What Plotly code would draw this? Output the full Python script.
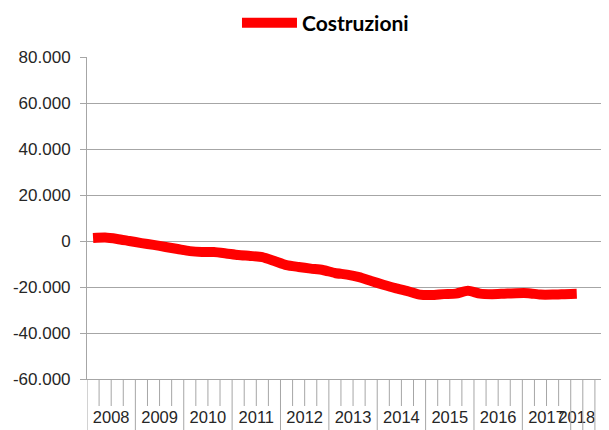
import plotly.graph_objects as go

# ---- data ----
series_name = "Costruzioni"
years = ["2008", "2009", "2010", "2011", "2012", "2013", "2014", "2015", "2016", "2017", "2018"]
quarters_per_year = [4, 4, 4, 4, 4, 4, 4, 4, 4, 4, 1]
extra_blank_slots = 2
values = [
    1300, 1500, 900, 0,
    -900, -1700, -2600, -3500,
    -4400, -4800, -4800, -5400,
    -6100, -6500, -7000, -8700,
    -10500, -11300, -12000, -12600,
    -13900, -14600, -15700, -17400,
    -19000, -20500, -21800, -23300,
    -23500, -23100, -22900, -21600,
    -22900, -23100, -22900, -22700,
    -22700, -23300, -23300, -23100,
    -22900,
]
y_tickvals = [-60000, -40000, -20000, 0, 20000, 40000, 60000, 80000]
y_ticktext = ["-60.000", "-40.000", "-20.000", "0", "20.000", "40.000", "60.000", "80.000"]

# ---- layout helpers ----
n_data = sum(quarters_per_year)
n_slots = n_data + extra_blank_slots
x = list(range(len(values)))

# page body has an 8px margin, so the figure is sized to the remaining area
W, H = 601, 422
mt, mb, ml, mr = 49, 51, 79, 2
plot_h = H - mt - mb

# group centres for year labels
centers = []
start = 0
for q in quarters_per_year:
    centers.append(start + (q - 1) / 2)
    start += q

# boundaries: long at year starts and after the last data slot
long_b = set()
start = 0
for q in quarters_per_year:
    long_b.add(start)
    start += q
for k in range(n_data, n_slots + 1):
    long_b.add(k)

grid_col = "#a6a6a6"
shapes = []
for k in range(n_slots + 1):
    y1 = -(mb + 2) / plot_h if k in long_b else -27 / plot_h
    shapes.append(dict(type="line", xref="x", yref="paper",
                       x0=k - 0.5, x1=k - 0.5, y0=0, y1=y1,
                       line=dict(color=grid_col, width=1)))

fig = go.Figure()
fig.add_trace(go.Scatter(
    x=x, y=values, mode="lines", name=series_name,
    line=dict(color="#ff0000", width=10, shape="spline", smoothing=0.6),
))

fig.update_layout(
    width=W, height=H,
    margin=dict(l=ml, r=mr, t=mt, b=mb, autoexpand=False),
    paper_bgcolor="white", plot_bgcolor="white",
    font=dict(family="Liberation Sans, Arial, sans-serif", color="#262626"),
    showlegend=True,
    legend=dict(orientation="h", xref="container", yref="container",
                x=0.381, xanchor="left", y=0.964, yanchor="middle",
                itemwidth=55,
                font=dict(family="Lato, sans-serif", size=21, color="#000000",
                          weight="bold"),
                bgcolor="rgba(0,0,0,0)"),
    shapes=shapes,
    xaxis=dict(range=[-0.5, n_slots - 0.5], showgrid=False, zeroline=False,
               showline=True, linecolor=grid_col, linewidth=1,
               tickmode="array", tickvals=centers, ticktext=years,
               tickangle=0, automargin=False,
               ticks="outside", ticklen=0, tickcolor="rgba(0,0,0,0)",
               ticklabelstandoff=23,
               tickfont=dict(size=16.5, color="#262626")),
    yaxis=dict(range=[-60000, 80000], tickmode="array",
               tickvals=y_tickvals, ticktext=y_ticktext, automargin=False,
               showgrid=True, gridcolor=grid_col, gridwidth=1,
               zeroline=False, showline=True, linecolor=grid_col, linewidth=1,
               ticks="outside", ticklen=6, tickcolor=grid_col,
               ticklabelstandoff=6,
               tickfont=dict(size=17, color="#262626")),
)

fig.write_html("out.html")
